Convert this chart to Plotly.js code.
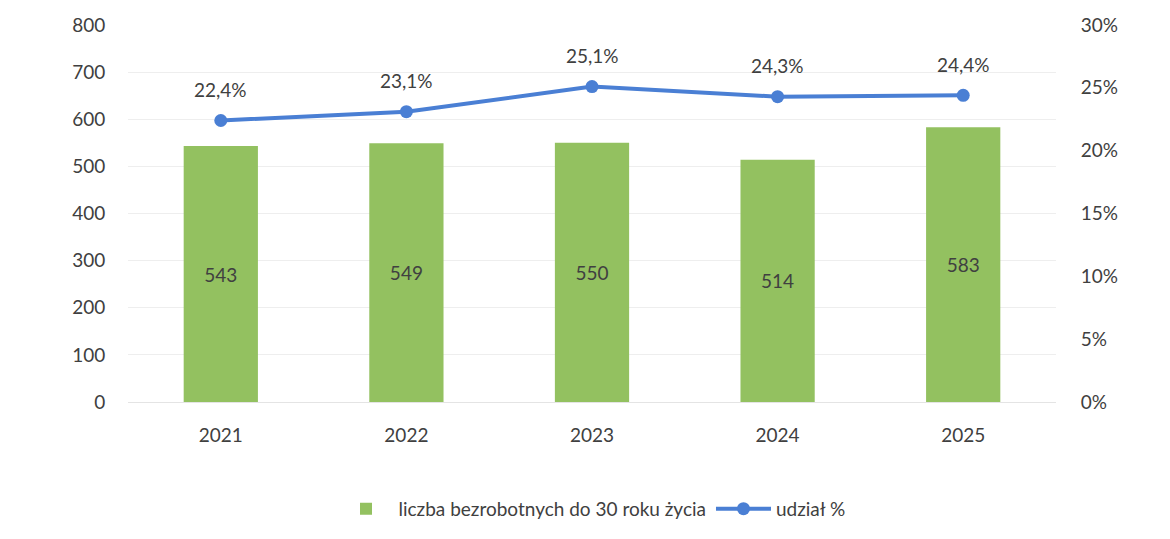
<!DOCTYPE html>
<html>
<head>
<meta charset="utf-8">
<script src="https://cdn.plot.ly/plotly-3.0.1.min.js"></script>
<style>html,body{margin:0;padding:0;background:#fff;}#chart{width:1170px;height:539px;}</style>
</head>
<body>
<div id="chart"></div>
<script>
const years = [2021, 2022, 2023, 2024, 2025];
const unemployed = [543, 549, 550, 514, 583];
const sharePct = [22.4, 23.1, 25.1, 24.3, 24.4];
const barName = 'liczba bezrobotnych do 30 roku życia';
const lineName = 'udział %';

const fontFam = 'Lato, "Open Sans", "Liberation Sans", sans-serif';
const txtColor = '#404040';
const fs = 19;
const fmtPct = v => v.toFixed(1).replace('.', ',') + '%';

const barTrace = {
  type: 'bar', x: years, y: unemployed, name: barName,
  marker: {color: '#93c160'}, width: 0.4,
  text: unemployed.map(String), textposition: 'inside', insidetextanchor: 'middle',
  textfont: {family: fontFam, size: fs, color: txtColor},
  hoverinfo: 'none'
};
const lineTrace = {
  type: 'scatter', mode: 'lines+markers', x: years, y: sharePct, name: lineName, yaxis: 'y2',
  line: {color: '#4a7fd4', width: 4},
  marker: {color: '#4a7fd4', size: 13},
  hoverinfo: 'none'
};

const annotations = years.map((yr, i) => ({
  x: yr, y: sharePct[i], yref: 'y2', xref: 'x',
  text: fmtPct(sharePct[i]), showarrow: false, yshift: 31,
  font: {family: fontFam, size: fs, color: txtColor}
}));

const layout = {
  width: 1170, height: 539,
  margin: {l: 128, r: 114, t: 25, b: 136},
  paper_bgcolor: '#ffffff', plot_bgcolor: '#ffffff',
  font: {family: fontFam, size: fs, color: txtColor},
  showlegend: true,
  legend: {orientation: 'h', x: 0.5, xanchor: 'center', y: -0.28, yanchor: 'middle',
    font: {family: fontFam, size: fs, color: txtColor}, traceorder: 'normal', itemwidth: 55},
  xaxis: {type: 'linear', range: [2020.5, 2025.5], tickvals: years, ticktext: years.map(String),
    showgrid: false, zeroline: false, showline: false,
    ticks: 'outside', ticklen: 16, tickcolor: 'rgba(0,0,0,0)', tickfont: {family: fontFam, size: fs, color: txtColor}},
  yaxis: {range: [0, 800], dtick: 100, showgrid: true, gridcolor: '#eeeeee', gridwidth: 1,
    zeroline: true, zerolinecolor: '#e4e4e4', showline: false,
    ticks: 'outside', ticklen: 18, tickcolor: 'rgba(0,0,0,0)',
    tickfont: {family: fontFam, size: fs, color: txtColor}},
  yaxis2: {overlaying: 'y', side: 'right', range: [0, 30], dtick: 5, ticksuffix: '%',
    showgrid: false, zeroline: false, showline: false,
    ticks: 'outside', ticklen: 20, tickcolor: 'rgba(0,0,0,0)',
    tickfont: {family: fontFam, size: fs, color: txtColor}},
  annotations: annotations
};

Plotly.newPlot('chart', [barTrace, lineTrace], layout, {displayModeBar: false, staticPlot: true});
</script>
</body>
</html>
